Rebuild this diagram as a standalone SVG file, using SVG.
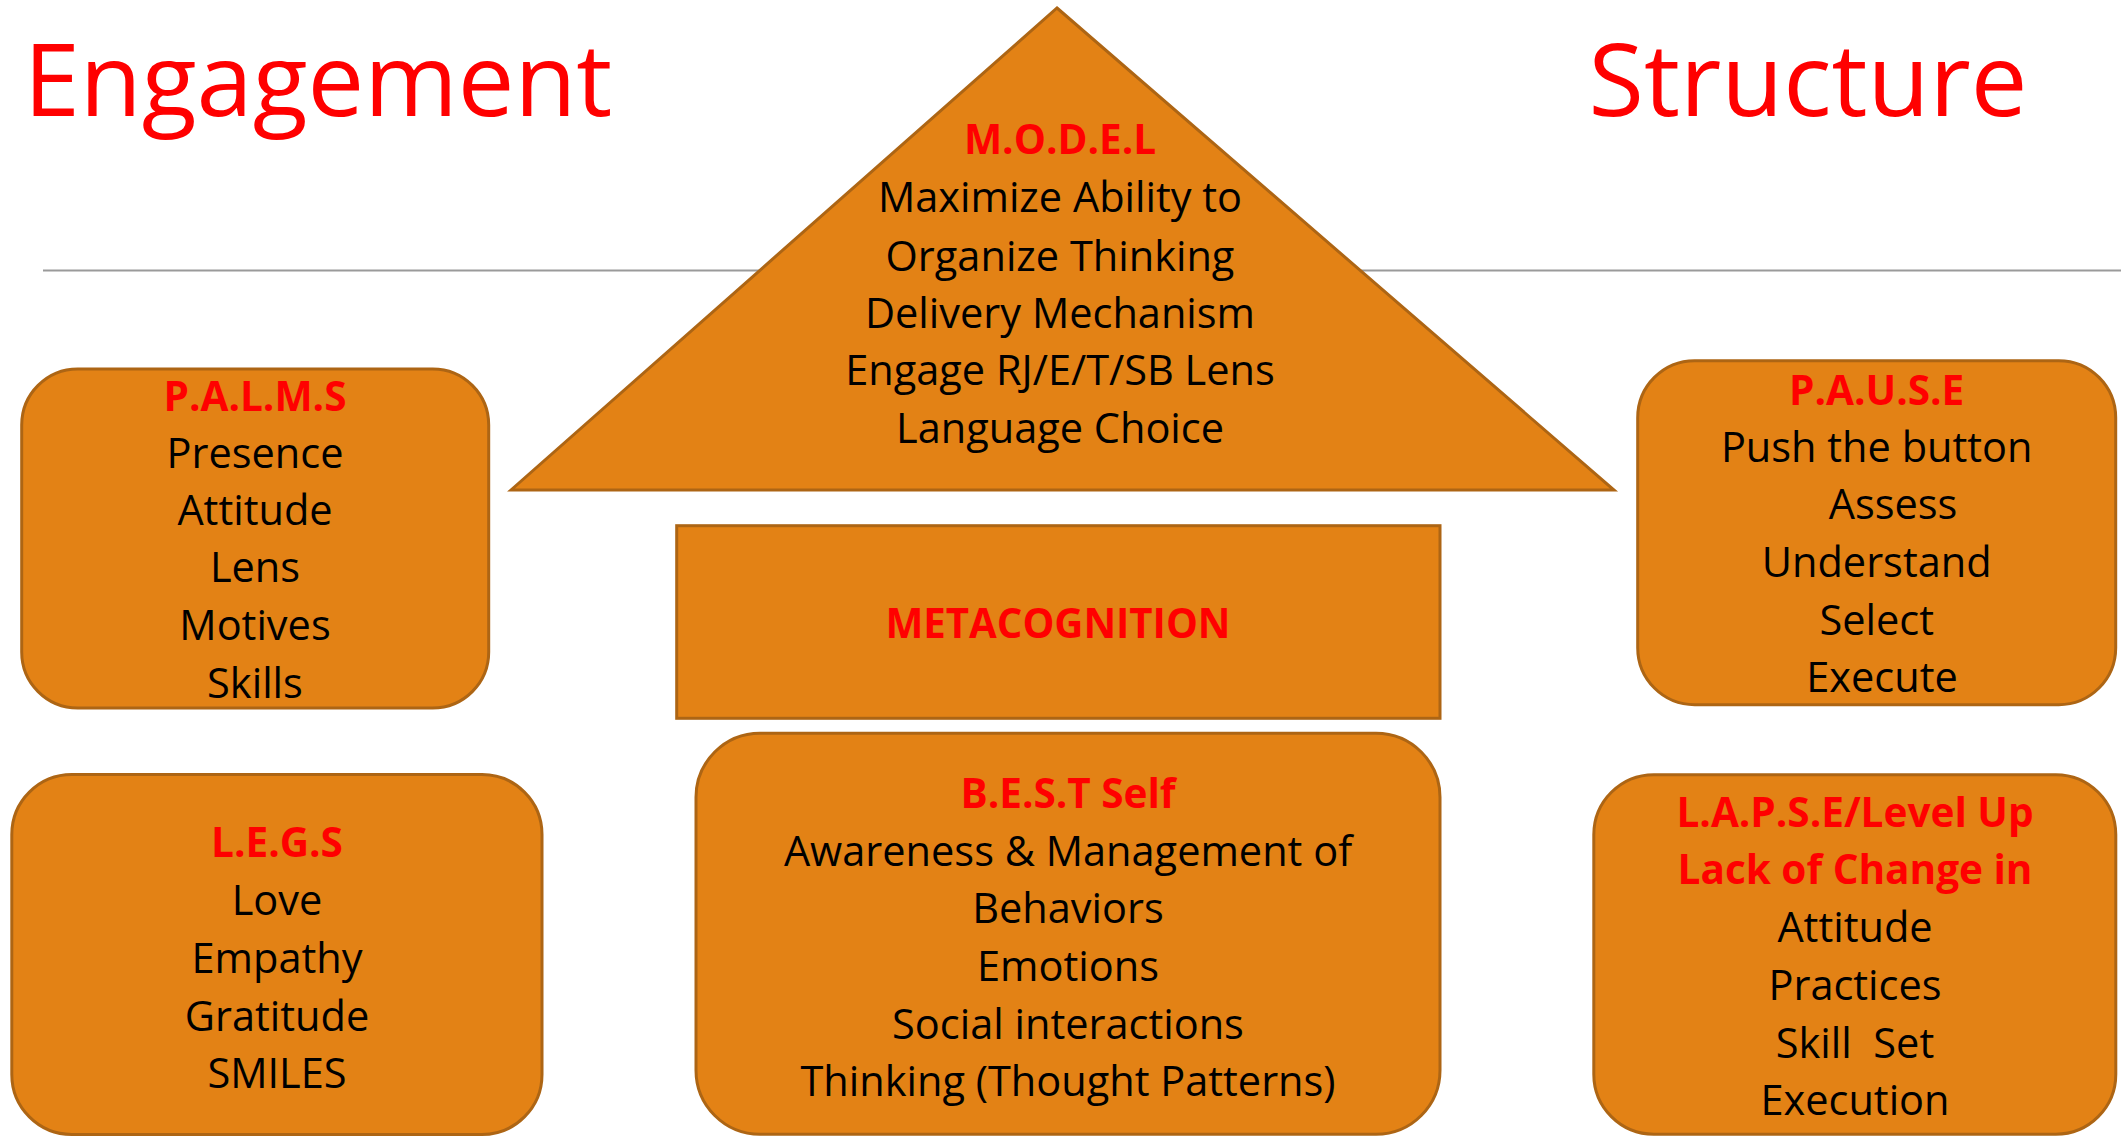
<svg xmlns="http://www.w3.org/2000/svg" width="2121" height="1137" viewBox="0 0 2121 1137">
<style>
.shape{fill:#E38215;stroke:#AD6514;stroke-width:3}
.t{font-family:"Open Sans","Liberation Sans",sans-serif;font-size:41.5px;fill:#000;text-anchor:middle}
.h{font-family:"Open Sans","Liberation Sans",sans-serif;font-size:40.5px;font-weight:700;fill:#FF0000;text-anchor:middle}
.title{font-family:"Open Sans","Liberation Sans",sans-serif;font-size:101px;fill:#FF0000;text-anchor:middle}
.pre{white-space:pre}
</style>
<rect width="2121" height="1137" fill="#fff"/>
<g id="rule"><line x1="43" y1="270.5" x2="2121" y2="270.5" stroke="#9a9a9a" stroke-width="2"/></g>
<g id="titles">
<text class="title" x="318" y="116">Engagement</text>
<text class="title" x="1808" y="116">Structure</text>
</g>
<g id="model">
<polygon class="shape" points="1057,8 1614,490 511,490"/>
<text class="h" x="1060" y="154">M.O.D.E.L</text>
<text class="t" x="1060" y="212.3">Maximize Ability to</text>
<text class="t" x="1060" y="271">Organize Thinking</text>
<text class="t" x="1060" y="328.3">Delivery Mechanism</text>
<text class="t" x="1060" y="385">Engage RJ/E/T/SB Lens</text>
<text class="t" x="1060" y="443.3">Language Choice</text>
</g>
<g id="palms">
<rect class="shape" x="21.7" y="369" width="467" height="339" rx="56" ry="56"/>
<text class="h" x="255" y="410.7">P.A.L.M.S</text>
<text class="t" x="255" y="467.7">Presence</text>
<text class="t" x="255" y="525">Attitude</text>
<text class="t" x="255" y="582">Lens</text>
<text class="t" x="255" y="640">Motives</text>
<text class="t" x="255" y="698.3">Skills</text>
</g>
<g id="pause">
<rect class="shape" x="1637.7" y="360.7" width="478" height="344" rx="57" ry="57"/>
<text class="h" x="1876.7" y="405">P.A.U.S.E</text>
<text class="t" x="1876.7" y="461.7">Push the button</text>
<text class="t" x="1893" y="519.3">Assess</text>
<text class="t" x="1876.7" y="577.3">Understand</text>
<text class="t" x="1876.7" y="635">Select</text>
<text class="t" x="1882" y="692.3">Execute</text>
</g>
<g id="metacognition">
<rect class="shape" x="676.7" y="525.7" width="763.3" height="192.6"/>
<text class="h" x="1058" y="638.3" textLength="345" lengthAdjust="spacingAndGlyphs">METACOGNITION</text>
</g>
<g id="legs">
<rect class="shape" x="11.8" y="774.5" width="530.2" height="360" rx="60" ry="60"/>
<text class="h" x="277" y="857.4">L.E.G.S</text>
<text class="t" x="277" y="915.1">Love</text>
<text class="t" x="277" y="972.8">Empathy</text>
<text class="t" x="277" y="1030.5">Gratitude</text>
<text class="t" x="277" y="1088.2">SMILES</text>
</g>
<g id="best">
<rect class="shape" x="696" y="733.3" width="744" height="401" rx="64" ry="64"/>
<text class="h" x="1068" y="807.7">B.E.S.T Self</text>
<text class="t" x="1068" y="866">Awareness &amp; Management of</text>
<text class="t" x="1068" y="923.3">Behaviors</text>
<text class="t" x="1068" y="981">Emotions</text>
<text class="t" x="1068" y="1038.7">Social interactions</text>
<text class="t" x="1068" y="1096.4">Thinking (Thought Patterns)</text>
</g>
<g id="lapse">
<rect class="shape" x="1593.8" y="774.7" width="522" height="359.5" rx="60" ry="60"/>
<text class="h" x="1855" y="826.5">L.A.P.S.E/Level Up</text>
<text class="h" x="1855" y="884">Lack of Change in</text>
<text class="t" x="1855" y="942">Attitude</text>
<text class="t" x="1855" y="999.7">Practices</text>
<text class="t pre" x="1855" y="1057.7" xml:space="preserve">Skill  Set</text>
<text class="t" x="1855" y="1115.3">Execution</text>
</g>
<g id="connectors"></g>
</svg>
